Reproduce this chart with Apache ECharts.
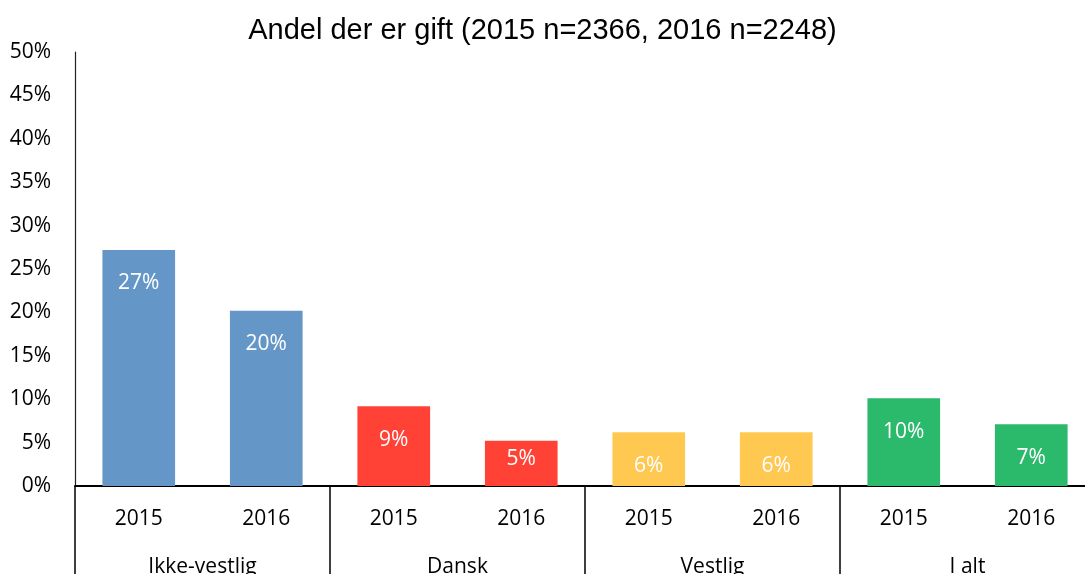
<!DOCTYPE html>
<html>
<head>
<meta charset="utf-8">
<script src="https://cdn.jsdelivr.net/npm/echarts@6/dist/echarts.min.js"></script>
<style>html,body{margin:0;padding:0;background:#fff}#c{width:1085px;height:574px}</style>
</head>
<body>
<div id="c"></div>
<script>
var titleText = 'Andel der er gift (2015 n=2366, 2016 n=2248)';
var years = ['2015', '2016', '2015', '2016', '2015', '2016', '2015', '2016'];
var groups = ['Ikke-vestlig', 'Dansk', 'Vestlig', 'I alt'];
var values = [27.2, 20.2, 9.2, 5.2, 6.2, 6.2, 10.1, 7.1];
var yTicks = [0, 5, 10, 15, 20, 25, 30, 35, 40, 45, 50];

var palette = ['#6497C7', '#6497C7', '#FF4136', '#FF4136', '#FEC851', '#FEC851', '#2BB96B', '#2BB96B'];
var font = 'Open Sans';

var chart = echarts.init(document.getElementById('c'));
chart.setOption({
  animation: false,
  title: {
    text: titleText, left: 'center', top: 11,
    textStyle: { fontFamily: 'Liberation Sans', fontSize: 29, fontWeight: 'normal', color: '#000' }
  },
  grid: { left: 75, right: -10, top: 52, bottom: 88, containLabel: false, outerBoundsMode: 'none' },
  xAxis: [{
    type: 'category', data: years,
    axisLine: { lineStyle: { color: '#000', width: 2 } },
    axisTick: { show: false },
    axisLabel: { margin: 23, fontSize: 21, fontFamily: font, color: '#000' }
  }, {
    type: 'category', data: groups, position: 'bottom',
    axisLine: { show: false },
    axisTick: { show: true, length: 100, lineStyle: { color: '#000', width: 1.5 } },
    axisLabel: { margin: 71, fontSize: 21, fontFamily: font, color: '#000' }
  }],
  yAxis: {
    type: 'value', min: yTicks[0], max: yTicks[yTicks.length - 1], interval: yTicks[1] - yTicks[0],
    axisLine: { show: true, lineStyle: { color: '#222', width: 1.2 } },
    axisTick: { show: false },
    splitLine: { show: false },
    axisLabel: { margin: 24, fontSize: 21, fontFamily: font, color: '#000', formatter: '{value}%' }
  },
  series: [{
    type: 'bar', xAxisIndex: 0, barWidth: '57%',
    data: values.map(function (v, i) {
      var item = { value: v, itemStyle: { color: palette[i] } };
      if (v < 6) { item.label = { position: 'inside', offset: [0, -4] }; }
      return item;
    }),
    label: {
      show: true, position: 'insideTop', distance: 23, color: '#fff',
      fontSize: 21, fontFamily: font,
      formatter: function (p) { return Math.round(p.value) + '%'; }
    }
  }]
});
</script>
</body>
</html>
